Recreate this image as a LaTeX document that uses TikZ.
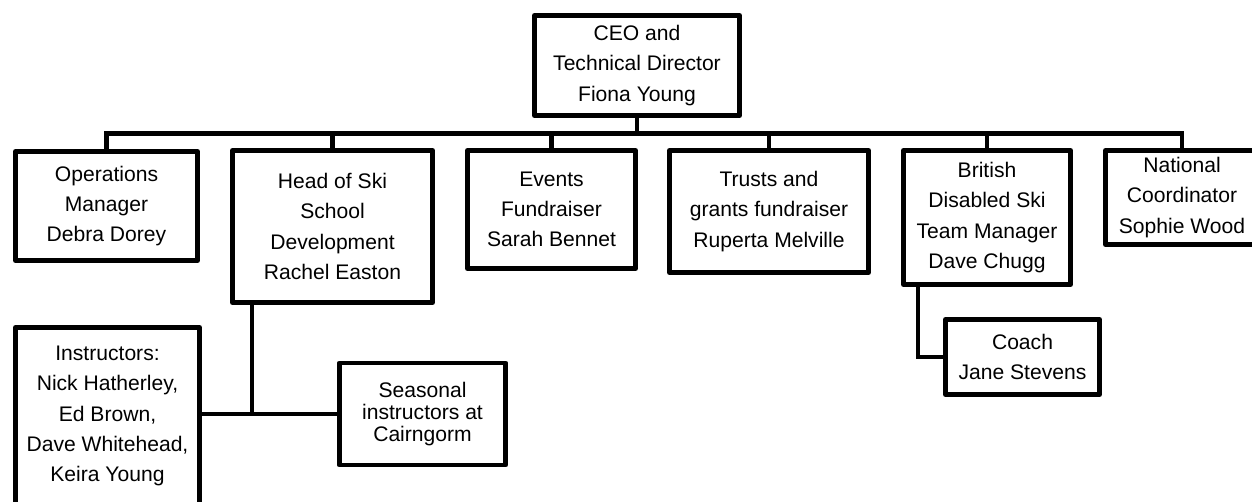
\documentclass[tikz,border=0pt]{standalone}
\usepackage{fontspec}
\setmainfont{Liberation Sans}
\usetikzlibrary{positioning}
\usetikzlibrary{calc}

\begin{document}
\begin{tikzpicture}[x=0.025cm, y=-0.025cm,
	post/.style={draw=black, line width=3.5pt, line join=round, align=center, inner sep=0pt, font=\fontsize{15pt}{21.5pt}\selectfont},
	link/.style={draw=black, line width=3.5pt}]
	\useasboundingbox (0,0) rectangle (1252,501);
	\coordinate (bus) at (0,133.5);
	\coordinate (joint1) at (252,414);
	\coordinate (joint2) at (918,357);
	\node[post, minimum width=5.125cm, minimum height=2.5cm] (node1) at (637,65.5) {CEO and\\Technical Director\\Fiona Young};
	\node[post, minimum width=4.55cm, minimum height=2.725cm] (node2) at (106.5,206) {Operations\\Manager\\Debra Dorey};
	\node[post, minimum width=5.0cm, minimum height=3.8cm] (node3) at (332.5,226.5) {Head of Ski\\School\\Development\\Rachel Easton};
	\node[post, minimum width=4.2cm, minimum height=2.95cm] (node4) at (551.5,209.5) {Events\\Fundraiser\\Sarah Bennet};
	\node[post, minimum width=4.975cm, minimum height=3.05cm] (node5) at (769,211.5) {Trusts and\\grants fundraiser\\Ruperta Melville};
	\node[post, minimum width=4.175cm, minimum height=3.35cm] (node6) at (987,217.5) {British\\Disabled Ski\\Team Manager\\Dave Chugg};
	\node[post, minimum width=3.825cm, minimum height=2.35cm] (node7) at (1182,197.5) {National\\Coordinator\\Sophie Wood};
	\node[post, minimum width=4.6cm, minimum height=4.425cm] (node8) at (107.5,416) {Instructors:\\Nick Hatherley,\\Ed Brown,\\Dave Whitehead,\\Keira Young};
	\node[post, minimum width=4.15cm, minimum height=2.55cm, font=\fontsize{15pt}{15.5pt}\selectfont] (node9) at (422.5,414) {Seasonal\\instructors at\\Cairngorm};
	\node[post, minimum width=3.85cm, minimum height=1.875cm] (node10) at (1022.5,357) {Coach\\Jane Stevens};
	\draw[link] (node1.south) -- (node1.south |- bus);
	\draw[link] (node2.north) -- (node2.north |- bus) -- (node7.north |- bus) -- (node7.north);
	\foreach \n in {3,...,6}
		\draw[link] (node\n.north) -- (node\n.north |- bus);
	\draw[link] (node3.south -| joint1) -- (joint1);
	\draw[link] (node9.west) -- (node9.west -| node8.east);
	\draw[link] (node6.south -| joint2) |- (node10.west);
\end{tikzpicture}
\end{document}
